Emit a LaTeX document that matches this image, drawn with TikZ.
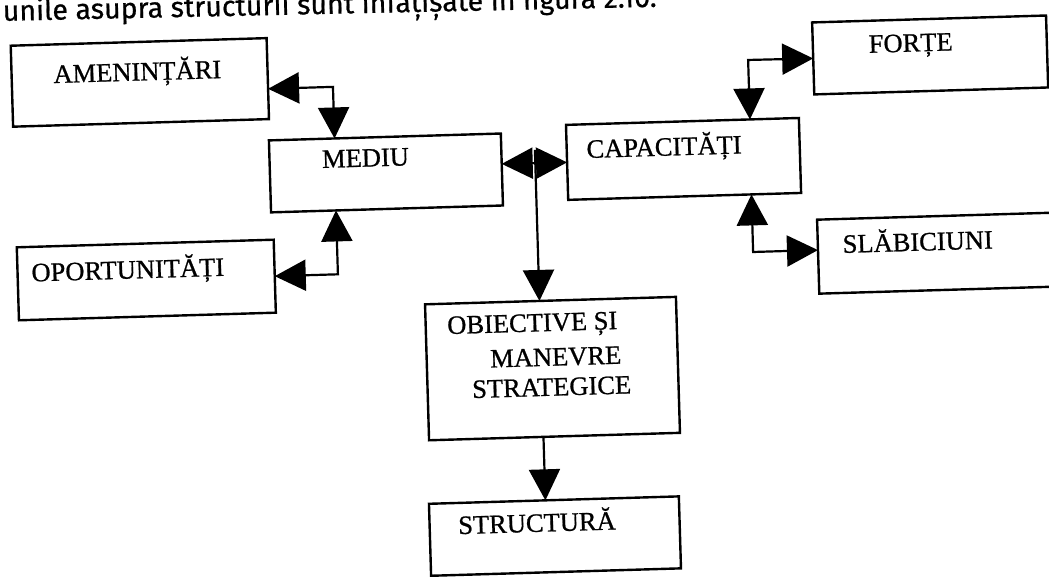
\documentclass[tikz,border=0pt]{standalone}
\usepackage{fontspec}
\setmainfont{Liberation Serif}
\newfontfamily\diagfont{Liberation Serif}[FakeBold=0.8]
\newfontfamily\headfont{Fira Sans}[FakeBold=0.6]
\usetikzlibrary{arrows.meta,calc}
\begin{document}
\begin{tikzpicture}[x=1pt,y=-1pt,
  box/.style={draw, line width=2.4pt, inner sep=0pt, outer sep=0pt},
  lbl/.style={font=\diagfont\fontsize{26.5}{32}\selectfont, inner sep=0pt, anchor=base},
  lblw/.style={font=\diagfont\fontsize{26.5}{32}\selectfont, inner sep=0pt, anchor=base west},
  conn/.style={line width=2.2pt, -{Triangle[length=31pt,width=31pt]}},
  conntwo/.style={line width=2.2pt, {Triangle[length=31pt,width=31pt]}-{Triangle[length=31pt,width=31pt]}}]
\fill[white] (0,0) rectangle (1049,577);
\useasboundingbox (0,0) rectangle (1049,577);
\clip (0,0) rectangle (1049,577);
\begin{scope}[rotate around={1.7:(524,288)}, transform shape]
  % header line (cut at top)
  \node[anchor=base west, inner sep=0pt, rotate=-0.47, font=\headfont\fontsize{24}{28}\selectfont] (head) at (10.9,5.5)
    {\resizebox{654pt}{!}{unile asupra structurii sunt înfățișate în figura 2.10.}};

  % boxes
  \node[box, minimum width=256pt, minimum height=81pt] (amen) at (146.1,71.1) {};
  \node[box, minimum width=232pt, minimum height=72pt] (mediu) at (389.4,168.9) {};
  \node[box, minimum width=257pt, minimum height=73pt] (oport) at (146.7,268.8) {};
  \node[box, minimum width=233pt, minimum height=75pt] (capac) at (687.3,163.7) {};
  \node[box, minimum width=234pt, minimum height=72pt] (forte) at (936.9,67.1) {};
  \node[box, minimum width=250pt, minimum height=74pt] (slab) at (944,265.4) {};
  \node[box, minimum width=251pt, minimum height=136pt] (obj) at (550.1,369.4) {};
  \node[box, minimum width=250pt, minimum height=72pt] (struct) at (547.6,536.9) {};

  % labels
  \node[lbl] (tamen) at (143.9,69.2) {AMENINȚĂRI};
  \node[lbl] (tmediu) at (369.4,162) {MEDIU};
  \node[lbl] (toport) at (128.5,266.9) {OPORTUNITĂȚI};
  \node[lbl] (tcapac) at (668.2,159.9) {CAPACITĂȚI};
  \node[lbl] (tforte) at (917.8,63.2) {FORȚE};
  \node[lbl] (tslab) at (918.9,262.4) {SLĂBICIUNI};
  \node[lblw] (tobja) at (446,331.8) {OBIECTIVE ȘI};
  \node[lblw] (tobjb) at (488,366.5) {MANEVRE};
  \node[lblw] (tobjc) at (469,396.5) {STRATEGICE};
  \node[lbl] (tstruct) at (530,532.1) {STRUCTURĂ};

  % elbow / junction coordinates
  \coordinate (e1) at (339,81.3);
  \coordinate (e2) at (338.4,268.8);
  \coordinate (jtop) at (539,150.3);
  \coordinate (e3) at (754.8,66.7);
  \coordinate (e4) at (754.1,258.8);

  % connectors
  \draw[conntwo] ($(amen.north east)!0.626!(amen.south east)$) -- (e1)
     -- ($(mediu.north west)!0.283!(mediu.north east)$);
  \draw[conntwo] (oport.east) -- (e2)
     -- ($(mediu.south west)!0.28!(mediu.south east)$);
  \draw[conntwo] ($(mediu.north east)!0.422!(mediu.south east)$) -- (capac.west);
  \draw[conn] (jtop) -- ($(obj.north west)!0.456!(obj.north east)$);
  \draw[conntwo] ($(capac.north west)!0.79!(capac.north east)$) -- (e3) -- (forte.west);
  \draw[conntwo] ($(capac.south west)!0.787!(capac.south east)$) -- (e4)
     -- ($(slab.north west)!0.411!(slab.south west)$);
  \draw[conn] ($(obj.south west)!0.456!(obj.south east)$)
     -- ($(struct.north west)!0.466!(struct.north east)$);
\end{scope}
\end{tikzpicture}
\end{document}
